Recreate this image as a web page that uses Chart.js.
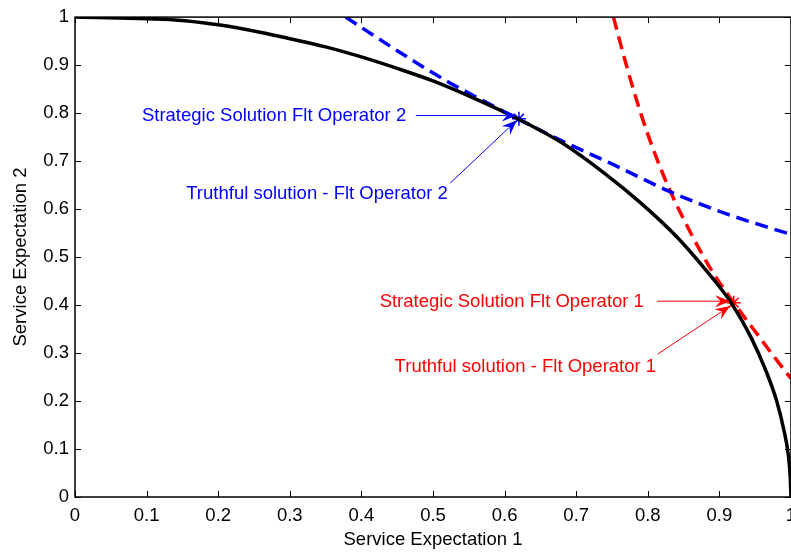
<!DOCTYPE html>
<html lang="en">
<head>
<meta charset="UTF-8">
<title>Service Expectation frontier</title>
<script src="https://cdn.jsdelivr.net/npm/chart.js"></script>
<style>
html, body {
  margin: 0;
  padding: 0;
  background: #fff;
  overflow: hidden;
}
#chart {
  display: block;
}
</style>
</head>
<body>
<canvas id="chart" width="811" height="552"></canvas>
<script>
// Pareto frontier (black solid)
const frontierX = [0, 0.14, 0.2, 0.26, 0.3, 0.35, 0.4, 0.45, 0.5, 0.56, 0.62, 0.68, 0.74, 0.79, 0.84, 0.88, 0.915, 0.945, 0.965, 0.98, 0.99, 0.996, 0.999, 1.0];
const frontierY = [1, 0.994, 0.984, 0.968, 0.955, 0.938, 0.917, 0.893, 0.867, 0.829, 0.787, 0.738, 0.674, 0.613, 0.543, 0.475, 0.408, 0.33, 0.263, 0.2, 0.14, 0.09, 0.04, 0];

// Flt Operator 2 curve (blue dashed)
const op2X = [0.378, 0.45, 0.52, 0.575, 0.62, 0.68, 0.75, 0.83, 0.91, 1.0];
const op2Y = [1.0, 0.93, 0.866, 0.822, 0.787, 0.742, 0.694, 0.637, 0.59, 0.547];

// Flt Operator 1 curve (red dashed)
const op1X = [0.752, 0.77, 0.79, 0.81, 0.83, 0.86, 0.89, 0.92, 0.95, 0.975, 1.0];
const op1Y = [1.0, 0.9, 0.8, 0.715, 0.642, 0.55, 0.47, 0.405, 0.345, 0.295, 0.247];

// solution points
const solutionOp2 = [0.62, 0.788];
const solutionOp1 = [0.92, 0.405];

const axisMin = 0;
const axisMax = 1;
const tickStep = 0.1;

// annotation labels: text centre and arrow tail/head, in data units
const noteText = [
  'Strategic Solution Flt Operator 2',
  'Truthful solution - Flt Operator 2',
  'Strategic Solution Flt Operator 1',
  'Truthful solution - Flt Operator 1'
];
const noteColor = ['#0000ff', '#0000ff', '#ff0000', '#ff0000'];
const noteAt = [[0.278, 0.795], [0.338, 0.631], [0.61, 0.406], [0.629, 0.271]];
const noteTail = [[0.476, 0.795], [0.524, 0.654], [0.813, 0.408], [0.814, 0.298]];
const noteHead = [[0.617, 0.795], [0.617, 0.785], [0.915, 0.408], [0.915, 0.398]];

const FONT = '"Liberation Sans", Arial, sans-serif';

function toPoints(xs, ys) {
  return xs.map((x, i) => ({ x: x, y: ys[i] }));
}

// box around the plot area with inward tick marks
const frameBox = {
  id: 'frameBox',
  afterDatasetsDraw(chart) {
    const { ctx, chartArea: a, scales: { x, y } } = chart;
    const len = 6;
    ctx.save();
    ctx.strokeStyle = '#000';
    ctx.lineWidth = 1.5;
    ctx.strokeRect(a.left, a.top, a.right - a.left, a.bottom - a.top);
    ctx.lineWidth = 1;
    ctx.beginPath();
    x.ticks.forEach(t => {
      const px = Math.round(x.getPixelForValue(t.value)) + 0.5;
      ctx.moveTo(px, a.bottom); ctx.lineTo(px, a.bottom - len);
      ctx.moveTo(px, a.top); ctx.lineTo(px, a.top + len);
    });
    y.ticks.forEach(t => {
      const py = Math.round(y.getPixelForValue(t.value)) + 0.5;
      ctx.moveTo(a.left, py); ctx.lineTo(a.left + len, py);
      ctx.moveTo(a.right, py); ctx.lineTo(a.right - len, py);
    });
    ctx.stroke();
    ctx.restore();
  }
};

// text notes with arrows pointing at the solutions
const notes = {
  id: 'notes',
  afterDraw(chart) {
    const { ctx, scales: { x, y } } = chart;
    ctx.save();
    ctx.font = '18.5px ' + FONT;
    ctx.textAlign = 'center';
    ctx.textBaseline = 'middle';
    noteText.forEach((txt, i) => {
      const c = noteColor[i];
      ctx.fillStyle = c;
      ctx.strokeStyle = c;
      ctx.fillText(txt, x.getPixelForValue(noteAt[i][0]), y.getPixelForValue(noteAt[i][1]));

      const x0 = x.getPixelForValue(noteTail[i][0]), y0 = y.getPixelForValue(noteTail[i][1]);
      const x1 = x.getPixelForValue(noteHead[i][0]), y1 = y.getPixelForValue(noteHead[i][1]);
      const ang = Math.atan2(y1 - y0, x1 - x0);
      const cos = Math.cos(ang), sin = Math.sin(ang);
      const hl = 15, hw = 6;
      ctx.lineWidth = 1;
      ctx.beginPath();
      ctx.moveTo(x0, y0);
      ctx.lineTo(x1 - hl * 0.7 * cos, y1 - hl * 0.7 * sin);
      ctx.stroke();
      ctx.beginPath();
      ctx.moveTo(x1, y1);
      ctx.lineTo(x1 - hl * cos + hw * sin, y1 - hl * sin - hw * cos);
      ctx.lineTo(x1 - hl * 0.65 * cos, y1 - hl * 0.65 * sin);
      ctx.lineTo(x1 - hl * cos - hw * sin, y1 - hl * sin + hw * cos);
      ctx.closePath();
      ctx.fill();
    });
    ctx.restore();
  }
};

const curveStyle = {
  borderWidth: 3.5,
  pointRadius: 0,
  cubicInterpolationMode: 'monotone'
};

new Chart(document.getElementById('chart').getContext('2d'), {
  type: 'line',
  data: {
    datasets: [
      {
        label: 'Frontier',
        data: toPoints(frontierX, frontierY),
        borderColor: '#000',
        ...curveStyle
      },
      {
        label: 'Flt Operator 2',
        data: toPoints(op2X, op2Y),
        borderColor: '#0000ff',
        borderDash: [13, 7],
        ...curveStyle
      },
      {
        label: 'Flt Operator 1',
        data: toPoints(op1X, op1Y),
        borderColor: '#ff0000',
        borderDash: [13, 7],
        ...curveStyle
      },
      {
        label: 'Solution Flt Operator 2',
        data: [{ x: solutionOp2[0], y: solutionOp2[1] }],
        showLine: false,
        pointStyle: 'star',
        pointRadius: 7,
        borderColor: '#0000ff',
        borderWidth: 1.5
      },
      {
        label: 'Solution Flt Operator 1',
        data: [{ x: solutionOp1[0], y: solutionOp1[1] }],
        showLine: false,
        pointStyle: 'star',
        pointRadius: 7,
        borderColor: '#ff0000',
        borderWidth: 1.5
      }
    ]
  },
  options: {
    responsive: false,
    animation: false,
    devicePixelRatio: 1,
    layout: { padding: { top: 14, right: 20, bottom: 0, left: 0 } },
    plugins: {
      legend: { display: false },
      tooltip: { enabled: false }
    },
    scales: {
      x: {
        type: 'linear',
        min: axisMin,
        max: axisMax,
        grid: { display: false, drawTicks: false },
        border: { display: false },
        ticks: {
          stepSize: tickStep,
          padding: 8,
          maxRotation: 0,
          color: '#000',
          font: { family: FONT, size: 18.5 },
          callback: v => String(+v.toFixed(1))
        },
        title: {
          display: true,
          text: 'Service Expectation 1',
          color: '#000',
          font: { family: FONT, size: 18.5 },
          padding: { top: 0, bottom: 1 }
        },
        afterFit: s => { s.height = 55; }
      },
      y: {
        type: 'linear',
        min: axisMin,
        max: axisMax,
        grid: { display: false, drawTicks: false },
        border: { display: false },
        ticks: {
          stepSize: tickStep,
          padding: 6,
          color: '#000',
          font: { family: FONT, size: 18.5 },
          callback: v => String(+v.toFixed(1))
        },
        title: {
          display: true,
          text: 'Service Expectation 2',
          color: '#000',
          font: { family: FONT, size: 18.5 },
          padding: { top: 10, bottom: 0 }
        },
        afterFit: s => { s.width = 75; }
      }
    }
  },
  plugins: [frameBox, notes]
});
</script>
</body>
</html>
